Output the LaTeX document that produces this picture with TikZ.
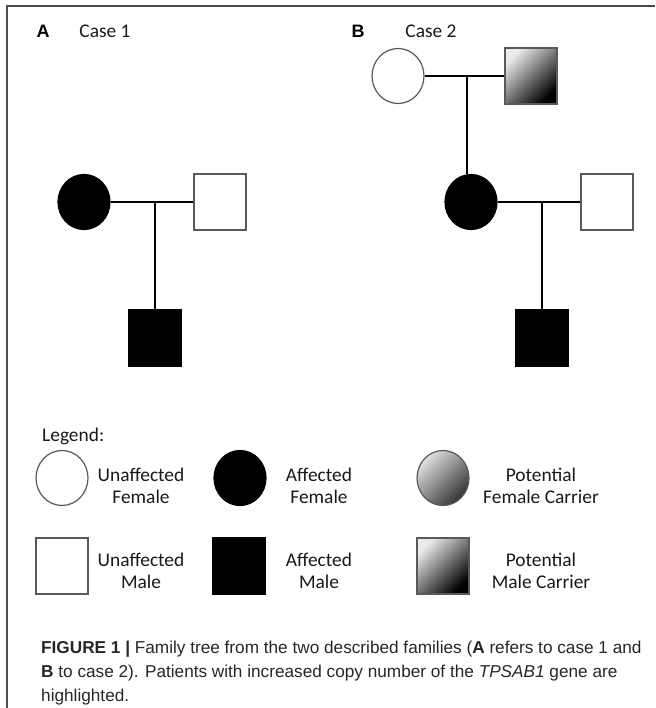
\documentclass[tikz,border=0pt]{standalone}
\usepackage{fontspec}
\setmainfont{Carlito}
\newfontfamily\capfont{Liberation Sans}
\usepackage{tikz}
\usetikzlibrary{shapes.geometric,calc}

\begin{document}
\begin{tikzpicture}[x = 1pt, y = -1pt,
  every node/.style = {inner sep = 0pt},
  fem/.style = {ellipse, minimum width = 52pt, minimum height = 55pt, draw = black!65, line width = 1.2pt},
  mal/.style = {rectangle, minimum width = 52pt, minimum height = 56pt, draw = black!65, line width = 1.2pt},
  aff/.style = {fill = black, draw = black},
  unaff/.style = {fill = white},
  carrier/.style = {top color = black!8, bottom color = black, shading angle = 45},
  fcarrier/.style = {top color = black!12, bottom color = black!80, shading angle = 45},
  link/.style = {line width = 2pt, black},
  lbl/.style = {font = \fontsize{19.4}{22}\selectfont, align = center, text = black!90},
  panel/.style = {font = \capfont\bfseries\fontsize{18}{20}\selectfont}]
\useasboundingbox (0, 0) rectangle (655, 708);
\draw[black!70, line width = 1.5pt] (655, 6) -- (7, 6) -- (7, 708);

\node[panel] (pa) at (43, 31) {A};
\node[lbl] (case1) at (105, 31) {Case 1};
\node[panel] (pb) at (358, 31) {B};
\node[lbl] (case2) at (431, 31) {Case 2};

\node[fem, aff] (mother1) at (84, 202) {};
\node[mal, unaff] (father1) at (220, 202) {};
\node[mal, aff] (son1) at (155, 338) {};
\coordinate (j1) at (155, 202);

\draw[link] (mother1) -- (father1);
\draw[link] (j1) -- (son1);

\node[fem, unaff] (gmother) at (398, 76) {};
\node[mal, carrier] (gfather) at (531, 76) {};
\node[fem, aff] (mother2) at (471, 202) {};
\node[mal, unaff] (father2) at (607, 202) {};
\node[mal, aff] (son2) at (542, 338) {};
\coordinate (j2) at (467, 76);
\coordinate (j3) at (542, 202);

\draw[link] (gmother) -- (gfather);
\draw[link] (j2) -- (j2 |- mother2.north);
\draw[link] (mother2) -- (father2);
\draw[link] (j3) -- (son2);

\node[lbl, anchor = west] (legend) at (42, 436) {Legend:};
\node[fem, unaff] (k1) at (62, 478) {};
\node[fem, aff] (k2) at (240, 478) {};
\node[fem, fcarrier] (k3) at (443, 478) {};
\node[mal, unaff] (k4) at (62, 566) {};
\node[mal, aff] (k5) at (239, 566) {};
\node[mal, carrier] (k6) at (443, 566) {};
\node[lbl] (t1) at (141, 486) {Unaffected\\Female};
\node[lbl] (t2) at (319, 486) {Affected\\Female};
\node[lbl] (t3) at (541, 486) {Potential\\Female Carrier};
\node[lbl] (t4) at (141, 571) {Unaffected\\Male};
\node[lbl] (t5) at (319, 571) {Affected\\Male};
\node[lbl] (t6) at (541, 571) {Potential\\Male Carrier};

\node[anchor = north west, align = left, text = black!85,
  font = \capfont\fontsize{17.2}{24}\selectfont] (caption) at (41, 641)
  {\textbf{FIGURE 1 |} Family tree from the two described families (\textbf{A} refers to case 1 and\\
   \textbf{B} to case 2). Patients with increased copy number of the \textit{TPSAB1} gene are\\
   highlighted.};
\end{tikzpicture}
\end{document}
